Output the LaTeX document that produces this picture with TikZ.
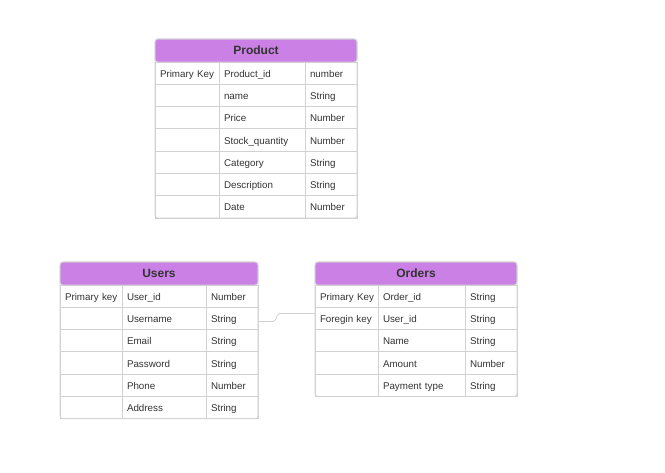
\documentclass[tikz,border=0pt]{standalone}
\usepackage{fontspec}
\setmainfont{Liberation Sans}
\usetikzlibrary{positioning}

\definecolor{hdrpurple}{RGB}{203,128,230}
\definecolor{gridgray}{RGB}{210,210,210}
\definecolor{txtgray}{RGB}{51,51,51}

\tikzset{
  hdr/.style={draw=gridgray, fill=hdrpurple, rounded corners=3pt, anchor=north west,
    minimum height=23pt, inner sep=0pt, outer sep=0pt, text height=9pt, text depth=0pt,
    text=txtgray, line width=0.8pt, font=\fontsize{12}{14}\selectfont\bfseries},
  cell/.style={draw=gridgray, anchor=north west, minimum height=22.3pt, inner ysep=0pt,
    inner xsep=5pt, outer sep=0pt, text height=9pt, text depth=1pt,
    text=txtgray, line width=0.8pt, font=\fontsize{9.8}{12}\selectfont},
  frame/.style={draw=gridgray, rounded corners=3pt, line width=0.8pt},
  link/.style={draw=gridgray, line width=0.8pt, rounded corners=2pt},
}

\begin{document}
\begin{tikzpicture}[x=1pt,y=-1pt]
  \useasboundingbox (0,0) rectangle (665,473);

  % Product table
  \node[hdr, minimum width=202pt] (ph) at (155,39) {Product};
  \foreach \k/\f/\t [count=\i] in {Primary~Key/Product\_id/number, /name/String,
      /Price/Number, /Stock\_quantity/Number, /Category/String,
      /Description/String, /Date/Number} {
    \node[cell, text width=54pt] (pk\i) at (155,{62+22.3*(\i-1)}) {\k};
    \node[cell, text width=76pt, right=0pt of pk\i] (pf\i) {\f};
    \node[cell, text width=42pt, right=0pt of pf\i] (pt\i) {\t};
  }
  \draw[frame] (ph.north west) rectangle (pt7.south east);

  % Users table
  \node[hdr, minimum width=198pt] (uh) at (60,262) {Users};
  \foreach \k/\f/\t [count=\i] in {Primary~key/User\_id/Number, /Username/String,
      /Email/String, /Password/String, /Phone/Number, /Address/String} {
    \node[cell, text width=52pt] (uk\i) at (60,{285+22.3*(\i-1)}) {\k};
    \node[cell, text width=74pt, right=0pt of uk\i] (uf\i) {\f};
    \node[cell, text width=42pt, right=0pt of uf\i] (ut\i) {\t};
  }
  \draw[frame] (uh.north west) rectangle (ut6.south east);

  % Orders table
  \node[hdr, minimum width=202pt] (oh) at (315,262) {Orders};
  \foreach \k/\f/\t [count=\i] in {Primary~Key/Order\_id/String, Foregin~key/User\_id/String,
      /Name/String, /Amount/Number, /Payment~type/String} {
    \node[cell, text width=53pt] (ok\i) at (315,{285+22.3*(\i-1)}) {\k};
    \node[cell, text width=77pt, right=0pt of ok\i] (of\i) {\f};
    \node[cell, text width=42pt, right=0pt of of\i] (ot\i) {\t};
  }
  \draw[frame] (oh.north west) rectangle (ot5.south east);

  % relation
  \draw[link] ([yshift=-3pt]ut2.east) -- ++(17pt,0pt) -- ++(3pt,8pt) -- ([yshift=5pt]ok2.west);
\end{tikzpicture}
\end{document}
